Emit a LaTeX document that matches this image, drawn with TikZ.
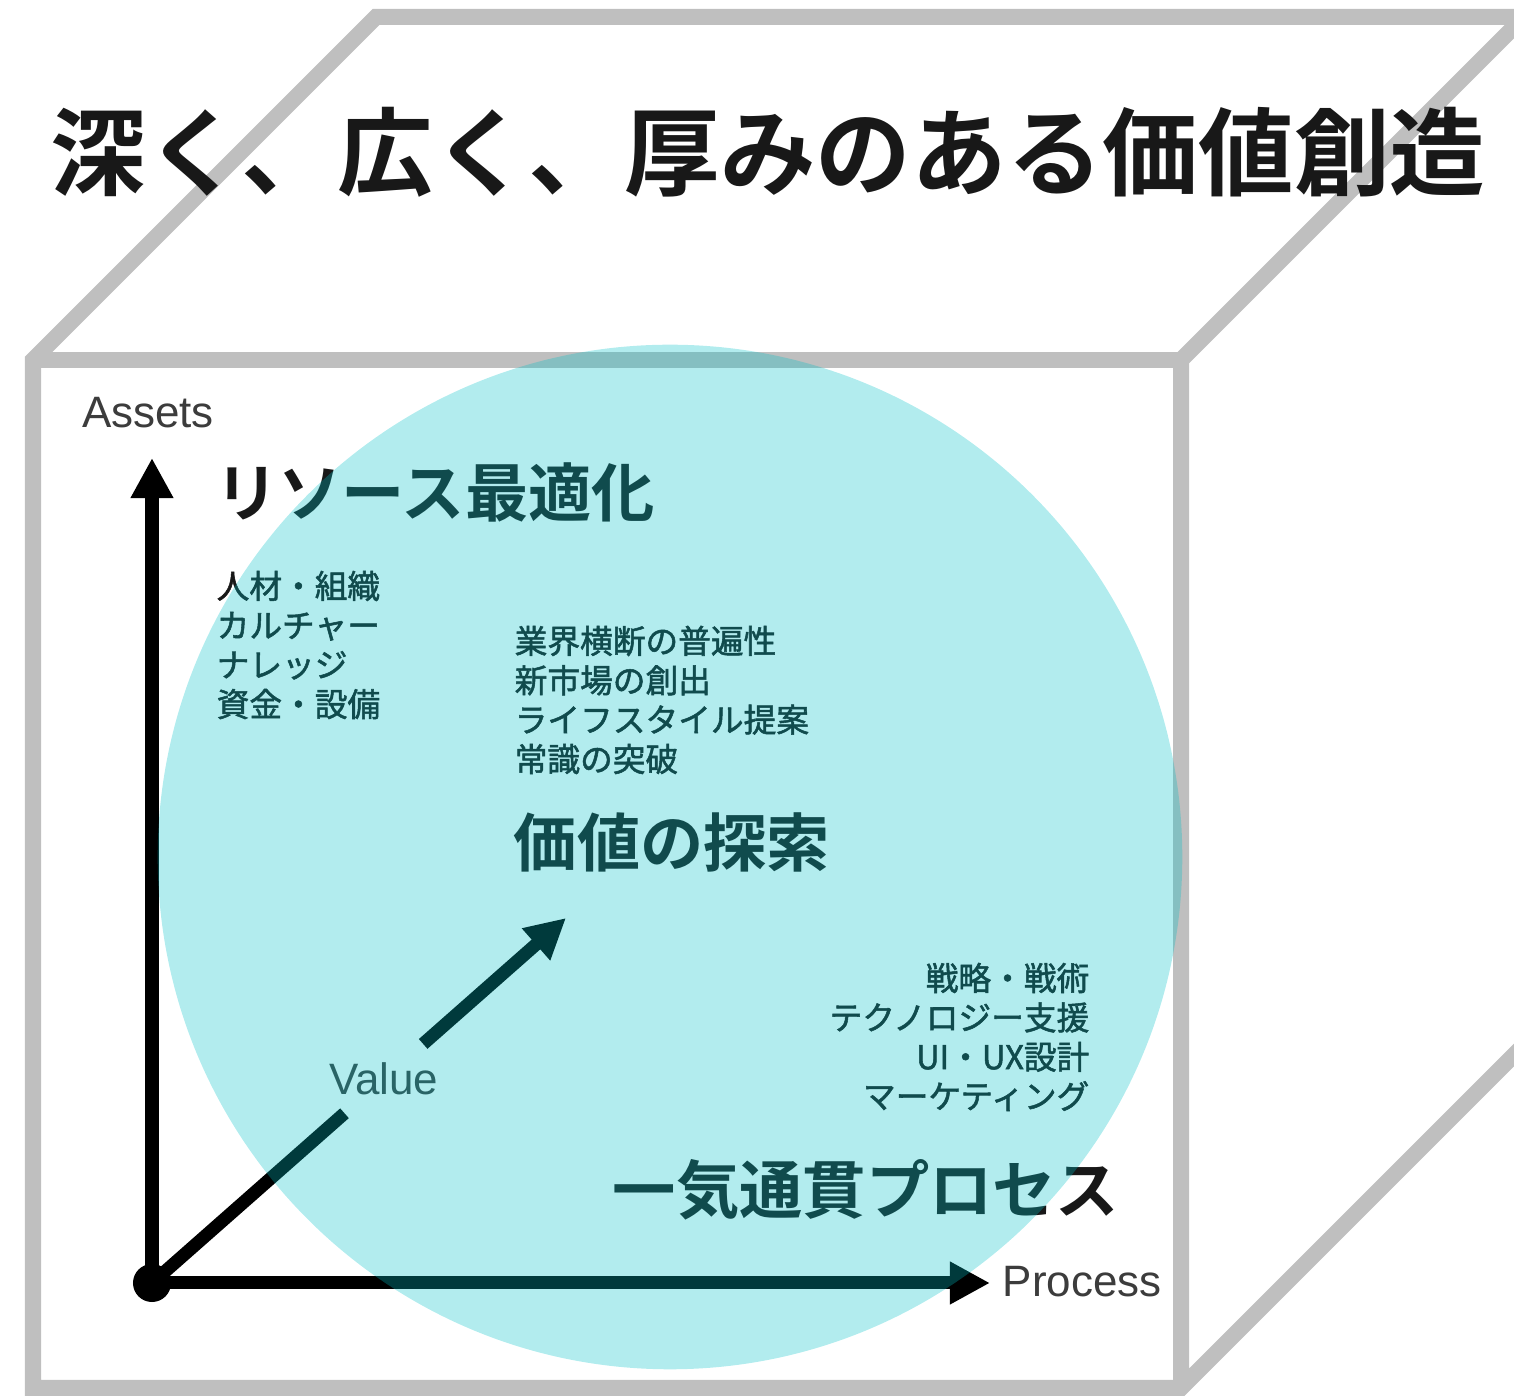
\documentclass[tikz,border=0pt]{standalone}
\usepackage{fontspec}
\setmainfont{Liberation Sans}
\newfontfamily\jp{Noto Sans CJK JP}[BoldFont={Noto Sans CJK JP Bold}]
\newfontfamily\jpm{Noto Sans CJK JP}[FakeBold=1.6]
\usetikzlibrary{arrows.meta,calc}

\definecolor{cubegray}{RGB}{191,191,191}
\definecolor{bubblecyan}{RGB}{0,193,200}
\definecolor{labelgray}{RGB}{60,60,60}
\definecolor{inkblack}{RGB}{24,24,24}

\begin{document}
\begin{tikzpicture}[x=0.01cm, y=-0.01cm,
  edge/.style={draw=cubegray, line width=0.16cm, line join=miter},
  axis/.style={line width=0.13cm, -{Triangle[length=0.4cm, width=0.4cm]}},
  headtext/.style={font=\jp\bfseries\fontsize{18}{20}\selectfont, text=inkblack, inner sep=0},
  itemtext/.style={font=\jpm\fontsize{9.3}{11.2}\selectfont, text=inkblack, inner sep=0},
  axislabel/.style={font=\fontsize{12.5}{14}\selectfont, text=labelgray, inner sep=0}]

\useasboundingbox (0,0) rectangle (1514,1398);

\coordinate (f1) at (33,360);
\coordinate (f2) at (1181,360);
\coordinate (f3) at (1181,1388);
\coordinate (f4) at (33,1388);
\coordinate (b1) at (376,17);
\coordinate (b2) at (1524,17);
\coordinate (b3) at (1524,1045);

\draw [edge] (b3) -- (f3) -- (f4) -- (f1) -- (b1) -- (b2) -- (f2) -- (f3);
\draw [edge] (f1) -- (f2);

\draw (768,152) node (title) [font=\jp\bfseries\fontsize{27.2}{30}\selectfont, text=inkblack, inner sep=0] {深く、広く、厚みのある価値創造};

\draw (435,492) node (resource) [headtext] {リソース最適化};
\draw (672,842) node (explore) [headtext] {価値の探索};
\draw (866,1190) node (oneprocess) [headtext] {一気通貫プロセス};

\draw (216,645) node (assetitems) [itemtext, anchor=west, align=left] {人材・組織\\カルチャー\\ナレッジ\\資金・設備};
\draw (514,700) node (valueitems) [itemtext, anchor=west, align=left] {業界横断の普遍性\\新市場の創出\\ライフスタイル提案\\常識の突破};
\draw (1090,1037) node (processitems) [itemtext, anchor=east, align=right] {戦略・戦術\\テクノロジー支援\\UI・UX設計\\マーケティング};

\draw (152,1283) node (origin) [circle, fill=black, inner sep=0, minimum size=0.38cm] {};
\coordinate (assettip) at (152,458);
\coordinate (processtip) at (990,1283);
\coordinate (valuetip) at (566,918);
\coordinate (vgap1) at ($(origin.center)!0.465!(valuetip)$);
\coordinate (vgap2) at ($(origin.center)!0.655!(valuetip)$);

\draw [axis] (origin.center) -- (assettip);
\draw [axis] (origin.center) -- (processtip);
\draw [line width=0.13cm] (origin.center) -- (vgap1);
\draw [axis] (vgap2) -- (valuetip);

\draw (148,413) node (assets) [axislabel] {Assets};
\draw (1002,1282) node (process) [axislabel, anchor=west] {Process};
\draw ($(vgap1)!0.5!(vgap2)$) node (value) [axislabel] {Value};

\draw (670,857) node (bubble) [circle, fill=bubblecyan, opacity=0.3, inner sep=0, minimum size=10.24cm] {};

\end{tikzpicture}
\end{document}
